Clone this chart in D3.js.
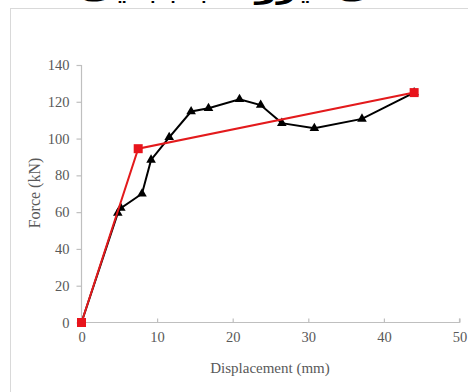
<!DOCTYPE html>
<html><head><meta charset="utf-8">
<script src="https://cdn.jsdelivr.net/npm/d3@7"></script>
<style>body{margin:0;background:#fff;overflow:hidden}svg{display:block}</style>
</head><body>
<svg id="c" width="468" height="392"></svg>
<script>
const testX = [0, 4.8, 5.2, 8.0, 9.2, 11.6, 14.5, 16.8, 20.9, 23.7, 26.5, 30.8, 37.1, 44];
const testY = [0, 59.5, 62.2, 70, 88.4, 100.7, 114.7, 116.5, 121.4, 118.2, 108.4, 105.6, 110.7, 125];
const bilinX = [0, 7.5, 44];
const bilinY = [0, 94.5, 125];
const xTicks = [0, 10, 20, 30, 40, 50];
const yTicks = [0, 20, 40, 60, 80, 100, 120, 140];
const title = "منحنی نیرو - جابجایی";

const svg = d3.select("#c");
const x = d3.scaleLinear().domain([0, 50]).range([81.5, 459.5]);
const y = d3.scaleLinear().domain([0, 140]).range([322.5, 65]);
const gray = "#595959", axisCol = "#bfbfbf";
const font = "'Liberation Serif','Times New Roman',serif";

// title, clipped at the top edge as in the reference
svg.append("text").attr("x", 447).attr("y", -2)
  .attr("font-family", "'DejaVu Sans', sans-serif").attr("font-weight", "bold")
  .attr("font-size", 28).attr("fill", "#000").attr("direction", "rtl")
  .attr("textLength", 367).attr("lengthAdjust", "spacingAndGlyphs").text(title);

// chart border
svg.append("rect").attr("x", 10.5).attr("y", 8.5).attr("width", 470).attr("height", 400)
  .attr("fill", "#fff").attr("stroke", "#d9d9d9").attr("stroke-width", 1);

// axes
const xAxis = d3.axisBottom(x).tickValues(xTicks).tickSize(-4).tickPadding(9).tickFormat(d3.format("d"));
const gx = svg.append("g").attr("transform", `translate(0,${y(0)})`).call(xAxis);
const yAxis = d3.axisLeft(y).tickValues(yTicks).tickSize(5).tickPadding(7).tickFormat(d3.format("d"));
const gy = svg.append("g").attr("transform", `translate(${x(0)},0)`).call(yAxis);
[gx, gy].forEach(g => {
  g.attr("font-family", font).attr("font-size", 14.5);
  g.select(".domain").attr("stroke", axisCol).attr("stroke-width", 1.2);
  g.selectAll(".tick line").attr("stroke", axisCol).attr("stroke-width", 1.2);
  g.selectAll(".tick text").attr("fill", gray).style("font-family", font).style("font-size", "14.5px");
});
gx.select(".domain").attr("d", `M${x(0)},-4V0H${x(50)}V-4`);
gy.select(".domain").attr("d", `M0,${y(140)}V${y(0)}`);

svg.append("text").attr("x", 270).attr("y", 373).attr("text-anchor", "middle")
  .attr("fill", gray).style("font-family", font).style("font-size", "15px").text("Displacement (mm)");
svg.append("text").attr("transform", "translate(40,193) rotate(-90)").attr("text-anchor", "middle")
  .attr("fill", gray).style("font-family", font).style("font-size", "16px").text("Force (kN)");

const line = d3.line().x(d => x(d[0])).y(d => y(d[1]));
const test = testX.map((v, i) => [v, testY[i]]);
const bilin = bilinX.map((v, i) => [v, bilinY[i]]);

svg.append("path").datum(test).attr("d", line).attr("fill", "none").attr("stroke", "#000").attr("stroke-width", 2);
svg.selectAll(".tri").data(test.slice(1)).enter().append("path")
  .attr("transform", d => `translate(${x(d[0])},${y(d[1])})`)
  .attr("d", d3.symbol(d3.symbolTriangle, 40)).attr("fill", "#000");

svg.append("path").datum(bilin).attr("d", line).attr("fill", "none").attr("stroke", "#e31a1c").attr("stroke-width", 2);
svg.selectAll(".sq").data(bilin).enter().append("rect")
  .attr("x", d => x(d[0]) - 4.5).attr("y", d => y(d[1]) - 4.5).attr("width", 9).attr("height", 9)
  .attr("fill", "#e8141c");
</script>
</body></html>
